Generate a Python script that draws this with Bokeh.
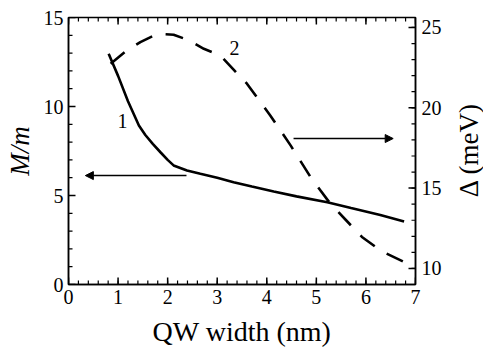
import math
from bokeh.plotting import figure
from bokeh.layouts import row
from bokeh.models import Range1d, LinearAxis, Arrow, NormalHead, Label, FixedTicker
from bokeh.embed import file_html
from bokeh.resources import INLINE

# Curve 1: effective mass ratio M/m (left axis)
width1 = [0.81, 1.0, 1.2, 1.42, 1.55, 1.7, 1.855, 2.0, 2.12, 2.39, 2.66, 3.0, 3.33, 3.7,
          4.14, 4.6, 5.22, 5.7, 6.29, 6.77]
mass1 = [12.96, 11.72, 10.3, 8.93, 8.4, 7.9, 7.43, 7.0, 6.69, 6.4, 6.22, 6.0, 5.75, 5.5,
         5.22, 4.95, 4.62, 4.3, 3.91, 3.54]

# Curve 2: splitting Delta in meV (right axis)
width2 = [0.85, 1.15, 1.45, 1.79, 2.12, 2.43, 2.73, 3.06, 3.6, 4.07, 4.48, 4.88, 5.28, 5.6,
          5.92, 6.3, 6.77]
delta2 = [22.74, 23.5, 24.09, 24.6, 24.55, 24.2, 23.67, 23.26, 21.5, 19.52, 17.66, 15.7,
          14.04, 13.0, 11.96, 11.1, 10.4]

x_major = [0, 1, 2, 3, 4, 5, 6, 7]
x_minor = [round(i * 0.2, 1) for i in range(36)]
m_major = [0, 5, 10, 15]
m_minor = list(range(0, 16))
d_major = [10, 15, 20, 25]
d_minor = list(range(9, 26))

FONT = "Liberation Serif"
TICK_COLOR = "black"
X0, X1 = 0, 7
M0, M1 = 0, 15
D0, D1 = 9.0, 25.62
W, H = 445, 353
BL, BR, BT, BB = 68, 30, 17, 69
FW, FH = W - BL - BR, H - BT - BB

p = figure(width=W, height=H, output_backend="svg", toolbar_location=None,
           x_range=Range1d(X0, X1), y_range=Range1d(M0, M1),
           min_border_left=BL, min_border_right=BR, min_border_top=BT, min_border_bottom=BB)
p.extra_y_ranges = {"delta": Range1d(D0, D1)}
p.grid.visible = False
p.outline_line_color = "black"
p.outline_line_width = 1.5


def style(ax):
    ax.axis_line_width = 1.5
    ax.axis_line_color = "black"
    ax.major_tick_in = 0
    ax.major_tick_out = 0
    ax.minor_tick_in = 0
    ax.minor_tick_out = 0
    ax.major_label_text_font = FONT
    ax.major_label_text_font_size = "20px"
    ax.major_label_text_color = "black"
    ax.axis_label_text_font = FONT
    ax.axis_label_text_font_size = "27px"
    ax.axis_label_text_color = "black"
    ax.axis_label_text_font_style = "normal"


xa = p.xaxis[0]
xa.ticker = FixedTicker(ticks=x_major, minor_ticks=x_minor)
style(xa)
xa.axis_label = "QW width (nm)"
xa.axis_label_text_font_size = "28px"
xa.major_label_standoff = 5
xa.axis_label_standoff = 9

ya = p.yaxis[0]
ya.ticker = FixedTicker(ticks=m_major, minor_ticks=m_minor)
style(ya)
ya.axis_label = "M/m"
ya.axis_label_text_font_style = "italic"
ya.major_label_standoff = 5
ya.axis_label_standoff = 6

ra = LinearAxis(y_range_name="delta", ticker=FixedTicker(ticks=d_major, minor_ticks=d_minor))
style(ra)
ra.major_label_standoff = 6
p.add_layout(ra, "right")

# inward ticks drawn as short segments (lengths in pixels converted to data units)
kx = (X1 - X0) / FW
km = (M1 - M0) / FH
MAJ, MIN = 7, 4
for ticks, ln, lw in ((x_major, MAJ, 1.5), (x_minor, MIN, 1.2)):
    p.segment(x0=ticks, y0=[M0] * len(ticks), x1=ticks, y1=[M0 + ln * km] * len(ticks),
              line_color=TICK_COLOR, line_width=lw)
    p.segment(x0=ticks, y0=[M1] * len(ticks), x1=ticks, y1=[M1 - ln * km] * len(ticks),
              line_color=TICK_COLOR, line_width=lw)
for ticks, ln, lw in ((m_major, MAJ, 1.5), (m_minor, MIN, 1.2)):
    p.segment(x0=[X0] * len(ticks), y0=ticks, x1=[X0 + ln * kx] * len(ticks), y1=ticks,
              line_color=TICK_COLOR, line_width=lw)
for ticks, ln, lw in ((d_major, MAJ, 1.5), (d_minor, MIN, 1.2)):
    p.segment(x0=[X1] * len(ticks), y0=ticks, x1=[X1 - ln * kx] * len(ticks), y1=ticks,
              y_range_name="delta", line_color=TICK_COLOR, line_width=lw)

p.line(width1, mass1, line_color="black", line_width=2.6)
p.line(width2, delta2, y_range_name="delta", line_color="black", line_width=2.6,
       line_dash="18 14")

p.add_layout(Arrow(end=NormalHead(size=8, line_color="black", fill_color="black"),
                   x_start=2.38, y_start=6.12, x_end=0.34, y_end=6.12,
                   line_color="black", line_width=1.6))
p.add_layout(Arrow(end=NormalHead(size=8, line_color="black", fill_color="black"),
                   x_start=4.54, y_start=8.2, x_end=6.55, y_end=8.2,
                   line_color="black", line_width=1.6))

p.add_layout(Label(x=1.09, y=9.21, text="1", text_font=FONT, text_font_size="20px",
                   text_color="black", text_align="center", text_baseline="middle"))
p.add_layout(Label(x=3.35, y=13.31, text="2", text_font=FONT, text_font_size="20px",
                   text_color="black", text_align="center", text_baseline="middle"))

# narrow side panel carrying the right-axis title, reading bottom-to-top
W2 = 38
p2 = figure(width=W2, height=H, output_backend="svg", toolbar_location=None,
            x_range=Range1d(0, W2), y_range=Range1d(0, H),
            x_axis_location=None, y_axis_location=None, min_border=0)
p2.grid.visible = False
p2.outline_line_color = None
p2.add_layout(Label(x=23, y=178, text="Δ (meV)", text_font=FONT, text_font_size="27px",
                    text_color="black", text_align="center", text_baseline="middle",
                    angle=math.pi / 2))

layout = row(p, p2)
open("out.html", "w").write(file_html(layout, INLINE))
